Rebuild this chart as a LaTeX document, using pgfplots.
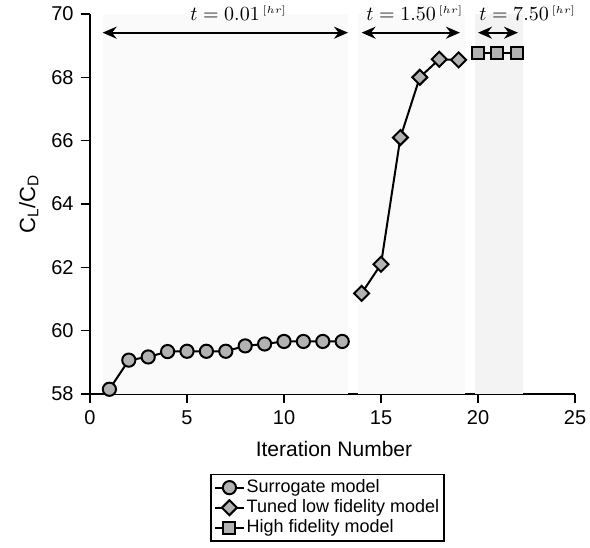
\documentclass[border=0pt]{standalone}
\usepackage[no-math]{fontspec}
\setmainfont{Liberation Sans}
\usepackage{pgfplots}
\pgfplotsset{compat=1.18}
\usetikzlibrary{arrows.meta,calc}

\definecolor{markgray}{RGB}{178,178,178}
\definecolor{shadeA}{RGB}{250,250,250}
\definecolor{shadeB}{RGB}{243,243,243}

\begin{document}
\begin{tikzpicture}[font=\fontsize{10}{12}\selectfont]
\begin{axis}[
  name=ax,
  scale only axis,
  width=242.5pt, height=190pt,
  xmin=0, xmax=25, ymin=58, ymax=70,
  xtick={0,5,...,25}, ytick={58,60,...,70},
  axis lines*=left,
  tick align=outside,
  major tick length=4.7pt,
  xtick style={black, line width=1.2pt},
  ytick style={black, line width=0.6pt},
  axis line style={line width=0.7pt},
  /pgf/number format/assume math mode=true,
  xlabel={Iteration Number},
  ylabel={C\textsubscript{L}/C\textsubscript{D}},
  xlabel style={at={(axis description cs:0.503,-0.145)}, anchor=center, font=\fontsize{10.5}{12}\selectfont},
  ylabel style={at={(axis description cs:-0.126,0.5)}, anchor=center, font=\fontsize{11}{13}\selectfont},
  legend style={at={(0.49,-0.21)}, anchor=north, draw=black, line width=0.8pt,
    legend cell align=left, row sep=0pt, inner sep=1.5pt,
    nodes={inner sep=1pt},
    font=\fontsize{9}{10.5}\selectfont},
  legend image code/.code={
    \draw[mark repeat=2, mark phase=2] plot coordinates {(0cm,0cm) (0.25cm,0cm) (0.5cm,0cm)};},
  clip=false,
]
% shaded phases
\fill[shadeA] (axis cs:0.65,58) rectangle (axis cs:13.3,70);
\fill[shadeA] (axis cs:13.8,58) rectangle (axis cs:19.33,70);
\fill[shadeB] (axis cs:19.85,58) rectangle (axis cs:22.3,70);

\addplot[black, line width=1pt, mark=*, mark size=3.3pt,
  mark options={fill=markgray, line width=1pt}]
coordinates {
  (1,58.15) (2,59.07) (3,59.17) (4,59.34) (5,59.35) (6,59.35) (7,59.35)
  (8,59.52) (9,59.58) (10,59.66) (11,59.66) (12,59.66) (13,59.66)
};
\addlegendentry{Surrogate model}

\addplot[black, line width=1pt, mark=square*, mark size=2.65pt,
  mark options={fill=markgray, line width=1pt, rotate=45}]
coordinates {
  (14,61.18) (15,62.1) (16,66.1) (17,68.0) (18,68.57) (19,68.55)
};
\addlegendentry{Tuned low fidelity model}

\addplot[black, line width=1pt, mark=square*, mark size=3pt,
  mark options={fill=markgray, line width=1pt}]
coordinates {
  (20,68.76) (21,68.76) (22,68.76)
};
\addlegendentry{High fidelity model}

% time annotations
\tikzset{tarr/.style={{Stealth[length=7pt,width=6pt]}-{Stealth[length=7pt,width=6pt]}, line width=1pt},
  tlab/.style={anchor=base west, inner sep=0pt, font=\fontsize{10}{12}\selectfont}}
\draw[tarr] (axis cs:0.65,69.41) -- (axis cs:13.3,69.41);
\draw[tarr] (axis cs:14.0,69.41) -- (axis cs:19.07,69.41);
\draw[tarr] (axis cs:20.0,69.41) -- (axis cs:22.06,69.41);
\node[tlab] at (axis cs:5.15,69.79) {$t = 0.01^{\,\scriptscriptstyle [hr]}$};
\node[tlab] at (axis cs:14.23,69.79) {$t = 1.50^{\,\scriptscriptstyle [hr]}$};
\node[tlab] at (axis cs:20.05,69.79) {$t = 7.50^{\,\scriptscriptstyle [hr]}$};
\end{axis}
\pgfresetboundingbox
\path[use as bounding box] ($(ax.south west)+(-45pt,-76.5pt)$) rectangle ($(ax.north east)+(7.5pt,7pt)$);
\end{tikzpicture}
\end{document}
